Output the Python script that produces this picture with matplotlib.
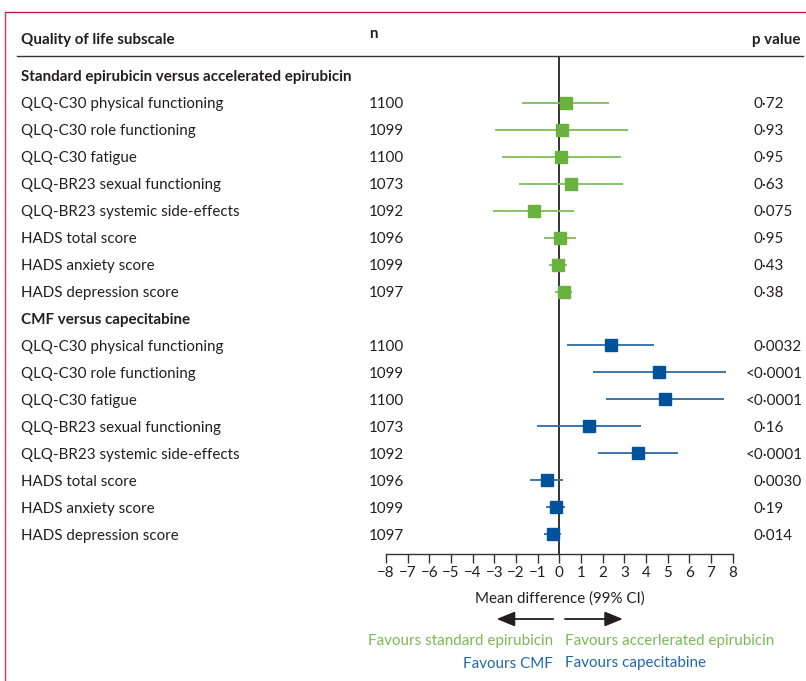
import matplotlib
matplotlib.use("Agg")
import matplotlib.pyplot as plt
from matplotlib.lines import Line2D
from matplotlib.transforms import blended_transform_factory

plt.rcParams['font.family'] = ['Lato', 'DejaVu Sans']

# data
subscales = ["QLQ-C30 physical functioning", "QLQ-C30 role functioning", "QLQ-C30 fatigue",
             "QLQ-BR23 sexual functioning", "QLQ-BR23 systemic side-effects",
             "HADS total score", "HADS anxiety score", "HADS depression score"]
n_epi = [1100, 1099, 1100, 1073, 1092, 1096, 1099, 1097]
n_cap = [1100, 1099, 1100, 1073, 1092, 1096, 1099, 1097]

epi_mean = [0.30, 0.11, 0.06, 0.52, -1.17, 0.02, -0.08, 0.20]
epi_lo = [-1.71, -2.95, -2.63, -1.85, -3.05, -0.72, -0.50, -0.18]
epi_hi = [2.28, 3.17, 2.83, 2.93, 0.66, 0.79, 0.35, 0.60]
p_epi = ["0·72", "0·93", "0·95", "0·63", "0·075", "0·95", "0·43", "0·38"]

cap_mean = [2.37, 4.59, 4.87, 1.36, 3.62, -0.58, -0.17, -0.28]
cap_lo = [0.34, 1.54, 2.16, -1.02, 1.79, -1.35, -0.61, -0.71]
cap_hi = [4.37, 7.70, 7.60, 3.77, 5.49, 0.16, 0.28, 0.09]
p_cap = ["0·0032", "<0·0001", "<0·0001", "0·16", "<0·0001", "0·0030", "0·19", "0·014"]

groups = ["Standard epirubicin versus accelerated epirubicin", "CMF versus capecitabine"]
ticks = list(range(-8, 9))

W, H = 806, 681
txt = '#231f20'
green_m, green_l, green_t = '#69b23e', '#7cbf57', '#7ab953'
blue_m, blue_l, blue_t = '#00529b', '#2f6aa6', '#2266ad'
fs = 10.9

fig = plt.figure(figsize=(W / 100, H / 100), dpi=100)
ax = fig.add_axes([386 / W, 1 - 554.3 / H, (732.7 - 386) / W, (554.3 - 56) / H])

ax.set_xlim(-8, 8)
ax.set_ylim(17.75, -0.74)
for s in ['top', 'right', 'left']:
    ax.spines[s].set_visible(False)
ax.spines['bottom'].set_color('#333333')
ax.spines['bottom'].set_linewidth(1.0)
ax.set_yticks([])
ax.set_xticks(ticks)
ax.set_xticklabels([str(t).replace('-', '\u2212') for t in ticks], fontsize=fs, color=txt)
ax.tick_params(axis='x', direction='out', length=6.3, width=1.0, color='#333333', pad=2)
ax.set_xlabel("Mean difference (99% CI)", fontsize=fs, color=txt, labelpad=8)
ax.axvline(0, color='#111111', lw=1.2, zorder=1)

tr = blended_transform_factory(fig.transFigure, ax.transData)

rows_epi = [1 + i for i in range(len(subscales))]
rows_cap = [10 + i for i in range(len(subscales))]

for rows, mean, lo, hi, cm, cl in [(rows_epi, epi_mean, epi_lo, epi_hi, green_m, green_l),
                                   (rows_cap, cap_mean, cap_lo, cap_hi, blue_m, blue_l)]:
    ax.hlines(rows, lo, hi, color=cl, lw=1.3, zorder=2)
    ax.plot(mean, rows, 's', color=cm, markersize=8.6, zorder=3, linestyle='none')

# column headings
fig.text(21 / W, 1 - 38.5 / H, "Quality of life subscale", fontsize=fs, fontweight='bold',
         color=txt, va='center_baseline')
fig.text(369 / W, 1 - 33 / H, "n", fontsize=fs, fontweight='bold', color=txt, va='center_baseline')
fig.text(801 / W, 1 - 38.5 / H, "p value", fontsize=fs, fontweight='bold', color=txt,
         va='center_baseline', ha='right')

for r0, g, rows, ns, ps in [(0, groups[0], rows_epi, n_epi, p_epi),
                            (9, groups[1], rows_cap, n_cap, p_cap)]:
    ax.text(21 / W, r0, g, transform=tr, fontsize=fs, fontweight='bold', color=txt,
            va='center_baseline')
    for r, lab, n, p in zip(rows, subscales, ns, ps):
        ax.text(21 / W, r, lab, transform=tr, fontsize=fs, color=txt, va='center_baseline')
        ax.text(369 / W, r, str(n), transform=tr, fontsize=fs, color=txt, va='center_baseline')
        px = 746 if p.startswith('<') else 753
        ax.text(px / W, r, p, transform=tr, fontsize=fs, color=txt, va='center_baseline')

# header rule
fig.add_artist(Line2D([17 / W, 803 / W], [1 - 56 / H, 1 - 56 / H], color='#333333', lw=1.0))

# favours arrows
arr_tr = blended_transform_factory(ax.transData, fig.transFigure)
arr_style = dict(arrowstyle='-|>,head_length=1.1,head_width=0.45', color='#231f20', lw=1.3,
                 shrinkA=0, shrinkB=0)
ax.annotate("", xy=(-2.89, 1 - 619 / H), xytext=(-0.28, 1 - 619 / H), xycoords=arr_tr,
            arrowprops=arr_style)
ax.annotate("", xy=(2.93, 1 - 619 / H), xytext=(0.26, 1 - 619 / H), xycoords=arr_tr,
            arrowprops=arr_style)

fig.text(552.7 / W, 1 - 640 / H, "Favours standard epirubicin", fontsize=fs, color=green_t,
         ha='right', va='center_baseline')
fig.text(565 / W, 1 - 640 / H, "Favours accerlerated epirubicin", fontsize=fs, color=green_t,
         ha='left', va='center_baseline')
fig.text(552.7 / W, 1 - 662 / H, "Favours CMF", fontsize=fs, color=blue_t, ha='right',
         va='center_baseline')
fig.text(565 / W, 1 - 662 / H, "Favours capecitabine", fontsize=fs, color=blue_t, ha='left',
         va='center_baseline')

# pink frame
fig.add_artist(Line2D([5 / W, 1], [1 - 12 / H, 1 - 12 / H], color='#c4154a', lw=1.0))
fig.add_artist(Line2D([5 / W, 5 / W], [0, 1 - 12 / H], color='#d8346a', lw=1.0))

fig.savefig("out.png", dpi=100)
